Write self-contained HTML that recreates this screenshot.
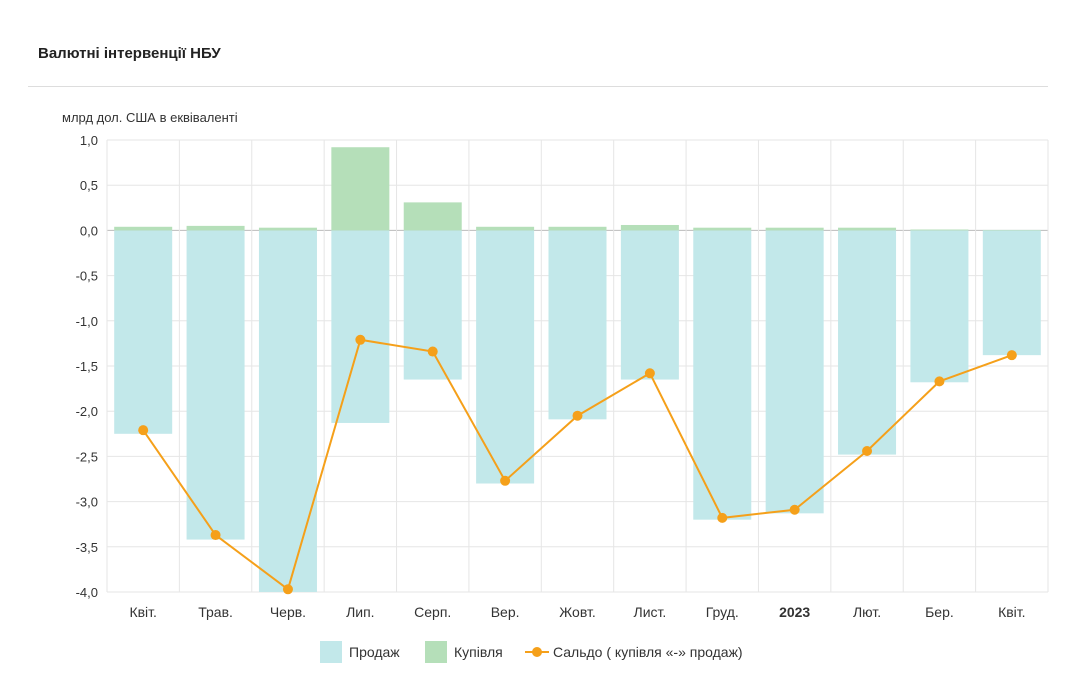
<!DOCTYPE html>
<html><head><meta charset="utf-8"><style>
body{margin:0;background:#fff;font-family:"Liberation Sans",sans-serif;}
#wrap{position:relative;width:1087px;height:694px;overflow:hidden;}
</style></head><body>
<div id="wrap">
<div style="position:absolute;left:38px;top:45px;font-size:15px;font-weight:bold;color:#222;">Валютні інтервенції НБУ</div>
<div style="position:absolute;left:28px;top:86px;width:1020px;height:1px;background:#ddd;"></div>
<svg id="chart" width="1087" height="694" style="position:absolute;left:0;top:0;"></svg>
</div>
<script>
const categories=["Квіт.","Трав.","Черв.","Лип.","Серп.","Вер.","Жовт.","Лист.","Груд.","2023","Лют.","Бер.","Квіт."];
const sales=[-2.25,-3.42,-4.0,-2.13,-1.65,-2.8,-2.09,-1.65,-3.2,-3.13,-2.48,-1.68,-1.38];
const purchases=[0.04,0.05,0.03,0.92,0.31,0.04,0.04,0.06,0.03,0.03,0.03,0.01,0.005];
const saldo=[-2.21,-3.37,-3.97,-1.21,-1.34,-2.77,-2.05,-1.58,-3.18,-3.09,-2.44,-1.67,-1.38];
const yTicks=[1,0.5,0,-0.5,-1,-1.5,-2,-2.5,-3,-3.5,-4];
const yTickLabels=["1,0","0,5","0,0","-0,5","-1,0","-1,5","-2,0","-2,5","-3,0","-3,5","-4,0"];

const svg=document.getElementById('chart');
const NS="http://www.w3.org/2000/svg";
const L=107,R=1048,T=140,B=592,yMax=1,yMin=-4;
const bw=(R-L)/categories.length;
function y(v){return T+(yMax-v)/(yMax-yMin)*(B-T);}
function xc(i){return L+bw*(i+0.5);}
function mk(tag,attrs,text){const e=document.createElementNS(NS,tag);for(const k in attrs)e.setAttribute(k,attrs[k]);if(text!==undefined)e.textContent=text;svg.appendChild(e);return e;}

const yt=mk('text',{x:62,y:122,'font-size':13,fill:'#333'},'млрд дол. США в еквіваленті');



yTicks.forEach((v,i)=>{
  const g=mk('line',{x1:L,x2:R,y1:y(v),y2:y(v),stroke:v===0?'#bbb':'#e6e6e6','stroke-width':1});
  
  
  const t=mk('text',{x:98,y:y(v)+5,'font-size':13,fill:'#333','text-anchor':'end'},yTickLabels[i]);
  
  
});
for(let i=0;i<=categories.length;i++){
  const g=mk('line',{x1:L+bw*i,x2:L+bw*i,y1:T,y2:B,stroke:'#e6e6e6','stroke-width':1});
  
  
}
const barW=58;
categories.forEach((c,i)=>{
  const s=mk('rect',{x:xc(i)-barW/2,y:y(0),width:barW,height:y(sales[i])-y(0),fill:'#c2e8ea'});
  
  
  const p=mk('rect',{x:xc(i)-barW/2,y:y(purchases[i]),width:barW,height:y(0)-y(purchases[i]),fill:'#b5dfb9'});
  
  
  const t=mk('text',{x:xc(i),y:617,'font-size':14,fill:'#333','text-anchor':'middle','font-weight':c==='2023'?'bold':'normal'},c);
  
  
});
const line=mk('polyline',{points:saldo.map((v,i)=>xc(i)+','+y(v)).join(' '),fill:'none',stroke:'#f5a01a','stroke-width':2});


saldo.forEach((v,i)=>{
  const c=mk('circle',{cx:xc(i),cy:y(v),r:5,fill:'#f5a01a'});
  
  
});
// legend
const lg=[['rect',320,'#c2e8ea','Продаж',349],['rect',425,'#b5dfb9','Купівля',454],['line',525,'#f5a01a','Сальдо ( купівля «-» продаж)',553]];
lg.forEach(d=>{
  if(d[0]==='rect'){
    const r=mk('rect',{x:d[1],y:641,width:22,height:22,fill:d[2]});
    
    
  }else{
    const l=mk('line',{x1:d[1],x2:d[1]+24,y1:652,y2:652,stroke:d[2],'stroke-width':2});
    
    
    const c=mk('circle',{cx:d[1]+12,cy:652,r:5,fill:d[2]});
    
    
  }
  const t=mk('text',{x:d[4],y:657,'font-size':14,fill:'#333'},d[3]);
  
  
});
</script>
</body></html>
